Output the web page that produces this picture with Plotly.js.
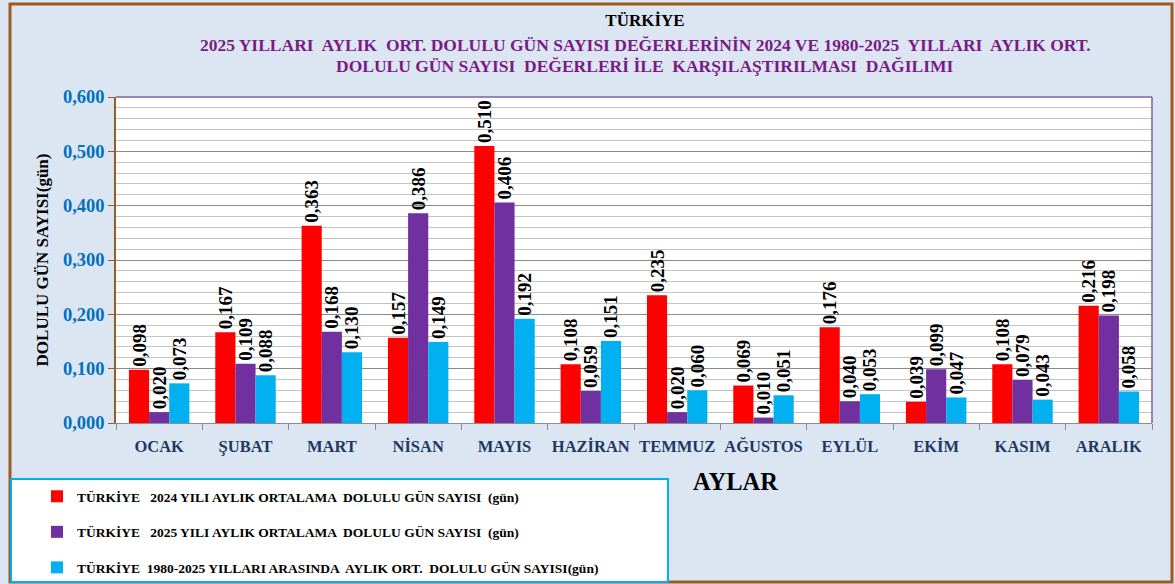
<!DOCTYPE html>
<html>
<head>
<meta charset="utf-8">
<script src="https://cdn.plot.ly/plotly-3.0.1.min.js"></script>
<style>html,body{margin:0;padding:0;background:#dce6f2;}#chart{width:1175px;height:584px;}</style>
</head>
<body>
<div id="chart"></div>
<script>
const months = ["OCAK","ŞUBAT","MART","NİSAN","MAYIS","HAZİRAN","TEMMUZ","AĞUSTOS","EYLÜL","EKİM","KASIM","ARALIK"];
const values2024 = [0.098,0.167,0.363,0.157,0.510,0.108,0.235,0.069,0.176,0.039,0.108,0.216];
const values2025 = [0.020,0.109,0.168,0.386,0.406,0.059,0.020,0.010,0.040,0.099,0.079,0.198];
const valuesAvg = [0.073,0.088,0.130,0.149,0.192,0.151,0.060,0.051,0.053,0.047,0.043,0.058];
const seriesNames = [
  "<b>TÜRKİYE   2024 YILI AYLIK ORTALAMA  DOLULU GÜN SAYISI  (gün)</b>",
  "<b>TÜRKİYE   2025 YILI AYLIK ORTALAMA  DOLULU GÜN SAYISI  (gün)</b>",
  "<b>TÜRKİYE  1980-2025 YILLARI ARASINDA  AYLIK ORT.  DOLULU GÜN SAYISI(gün)</b>"
];
const yTicks = [0,0.1,0.2,0.3,0.4,0.5,0.6];

const SERIF = 'Liberation Serif, Times New Roman, serif';
const fmt = v => v.toFixed(3).replace('.', ',');
const colors = ['#ff0000','#7030a0','#00b0f0'];
const seriesVals = [values2024, values2025, valuesAvg];

const traces = seriesVals.map((vals,i) => ({
  type:'bar', x: months, y: vals, name: seriesNames[i],
  legendgroup:'g'+i,
  marker:{color:colors[i]},
  text: vals.map(fmt), textposition:'outside', textangle:-90,
  constraintext:'none', cliponaxis:false,
  textfont:{family:SERIF, size:19, color:'#000', weight:'bold'},
  hoverinfo:'x+y'
}));

// pixel helpers (plot area: x 116..1152, y 97..423)
const L=116, R=1152, T=97, B=423;
const px = p => (p-L)/(R-L);
const py = p => (B-p)/(B-T);

const layout = {
  width:1175, height:584,
  paper_bgcolor:'#dce6f2', plot_bgcolor:'#ffffff',
  margin:{l:L, r:1175-R, t:T, b:584-B, autoexpand:false},
  separators:',.',
  barmode:'group', bargap:0.3, bargroupgap:0,
  showlegend:true,
  legend:{x:px(37), y:py(481), xanchor:'left', yanchor:'top', bgcolor:'rgba(0,0,0,0)',
          traceorder:'grouped', tracegroupgap:15,
          font:{family:SERIF, size:13.5, color:'#000'}},
  title:{text:'<b>TÜRKİYE</b>', x:px(645), xref:'paper', xanchor:'center', y:0.965, yanchor:'middle',
         font:{family:SERIF, size:17, color:'#000'}},
  xaxis:{type:'category', showline:true, linecolor:'#8c8c8c', linewidth:1, automargin:false,
         ticks:'outside', tickson:'boundaries', ticklen:6, tickcolor:'#8c8c8c',
         tickangle:0, ticklabelstandoff:8,
         tickfont:{family:SERIF, size:16.5, color:'#1f3864', weight:'bold'},
         showgrid:false},
  yaxis:{range:[0,0.6], tickvals:yTicks, tickformat:'.3f', automargin:false,
         showline:true, linecolor:'#9c5a2a', linewidth:1.5,
         ticks:'outside', ticklen:6, tickcolor:'#9c5a2a',
         tickfont:{family:SERIF, size:18.5, color:'#0070c0', weight:'bold'},
         showgrid:true, gridcolor:'#8a8a8a', gridwidth:1,
         minor:{dtick:0.02, showgrid:true, gridcolor:'#c4c4c4', gridwidth:1},
         zeroline:false,
         title:{text:'<b>DOLULU GÜN SAYISI(gün)</b>', standoff:10,
                font:{family:SERIF, size:17, color:'#000'}}},
  annotations:[
    {xref:'paper', yref:'paper', x:px(645), y:py(45), xanchor:'center', yanchor:'middle', showarrow:false,
     text:'<b>2025 YILLARI  AYLIK  ORT. DOLULU GÜN SAYISI DEĞERLERİNİN 2024 VE 1980-2025  YILLARI  AYLIK ORT.</b>',
     font:{family:SERIF, size:17.5, color:'#7b1a85'}},
    {xref:'paper', yref:'paper', x:px(645), y:py(66), xanchor:'center', yanchor:'middle', showarrow:false,
     text:'<b>DOLULU GÜN SAYISI  DEĞERLERİ İLE  KARŞILAŞTIRILMASI  DAĞILIMI</b>',
     font:{family:SERIF, size:17.5, color:'#7b1a85'}},
    {xref:'paper', yref:'paper', x:px(735), y:py(481), xanchor:'center', yanchor:'middle', showarrow:false,
     text:'<b>AYLAR</b>', font:{family:SERIF, size:24.5, color:'#000'}}
  ],
  shapes:[
    {type:'rect', xref:'paper', yref:'paper', x0:px(10), x1:px(1172), y0:py(582), y1:py(4),
     line:{color:'#9c5a1e', width:3}, fillcolor:'rgba(0,0,0,0)', layer:'below'},
    {type:'rect', xref:'paper', yref:'paper', x0:px(11), x1:px(668), y0:py(582), y1:py(479),
     line:{color:'#00b0f0', width:2}, fillcolor:'#ffffff', layer:'below'},
    {type:'line', xref:'paper', yref:'paper', x0:0, x1:1, y0:1, y1:1, line:{color:'#7f5fa8', width:1.5}},
    {type:'line', xref:'paper', yref:'paper', x0:1, x1:1, y0:0, y1:1, line:{color:'#7f5fa8', width:1.5}}
  ]
};

Plotly.newPlot('chart', traces, layout, {displayModeBar:false, responsive:false});
</script>
</body>
</html>
